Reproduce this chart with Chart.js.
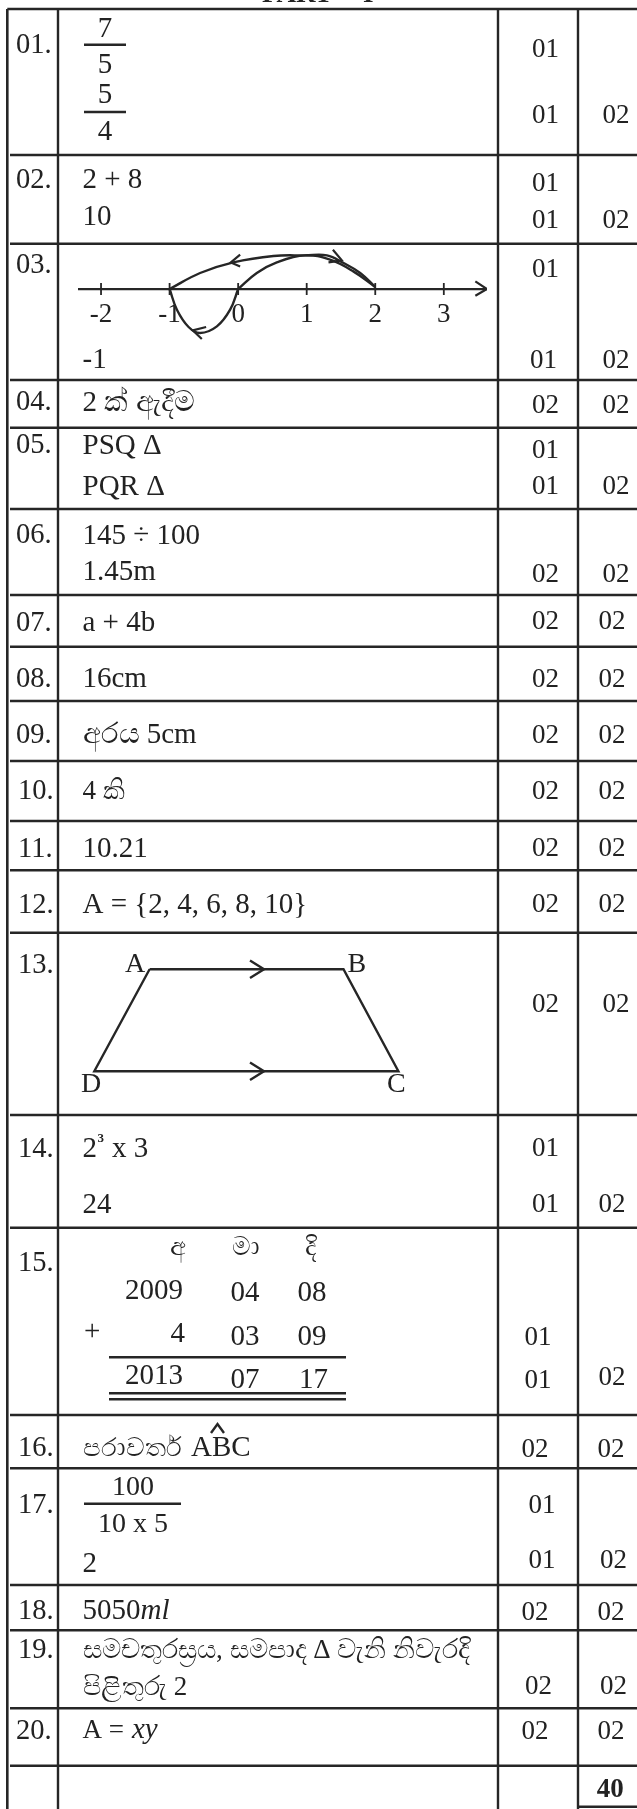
<!DOCTYPE html>
<html>
<head>
<meta charset="utf-8">
<script src="https://cdn.jsdelivr.net/npm/chart.js@4"></script>
<style>
  html, body { margin: 0; padding: 0; background: #fff; }
  #wrap { position: relative; width: 637px; height: 1809px; overflow: hidden; }
  canvas { position: absolute; }
  #tabela { left: 0; top: 0; }
  #reta { left: 78px; top: 249px; }
</style>
</head>
<body>
<div id="wrap">
  <canvas id="tabela" width="637" height="1809"></canvas>
  <canvas id="reta" width="409" height="96"></canvas>
</div>
<script>
// dados
const titleParts = ["PART", "-", "I"];
const questionNos = ["01.", "02.", "03.", "04.", "05.", "06.", "07.", "08.", "09.", "10.",
  "11.", "12.", "13.", "14.", "15.", "16.", "17.", "18.", "19.", "20."];
const answers = ["7", "5", "5", "4", "2 + 8", "10", "-1", "2 ක් ඇදීම", "PSQ Δ", "PQR Δ",
  "145 ÷ 100", "1.45m", "a + 4b", "16cm", "අරය 5cm", "4 කි", "10.21", "A = {2, 4, 6, 8, 10}",
  "A", "B", "D", "C", "2", "3", "x 3", "24",
  "අ", "මා", "දි", "2009", "04", "08", "+", "4", "03", "09", "2013", "07", "17",
  "පරාවර්ත", "ABC", "100", "10 x 5", "2", "5050", "ml",
  "සමචතුරස්‍රය, සමපාද Δ වැනි නිවැරදි", "පිළිතුරු 2", "A = ", "xy"];
const subMarks = ["01", "01", "01", "01", "01", "01", "02", "01", "01", "02", "02", "02", "02",
  "02", "02", "02", "02", "01", "01", "01", "01", "02", "01", "01", "02", "02", "02"];
const totalMarks = ["02", "02", "02", "02", "02", "02", "02", "02", "02", "02", "02", "02",
  "02", "02", "02", "02", "02", "02", "02", "02", "40"];
const numberLineTicks = [-2, -1, 0, 1, 2, 3];

// curvas da reta numerica (valor na reta, altura)
const arcOver = [[-1, 0], [-0.555, 16], [-0.07, 26.6], [0.515, 33], [0.977, 33.6], [1.295, 33.6], [1.537, 26], [1.78, 16], [2, 2]];
const arcUp = [[0, 0], [0.272, 16], [0.564, 26.6], [0.977, 33.6], [1.34, 29.3], [1.68, 17.6], [2, 2]];
const arcUnder = [[-1, 0], [-0.893, -20.7], [-0.723, -38], [-0.555, -44], [-0.31, -37.4], [-0.117, -20.7], [0, 0]];
const arrowHeads = [
  [[0.029, 34.3], [-0.107, 26.6], [0.029, 22.6]],
  [[1.382, 39.3], [1.513, 28.6], [1.318, 26.6]],
  [[-0.467, -38], [-0.662, -41.4], [-0.53, -50]],
  [[3.46, 7.7], [3.63, 0], [3.46, -6.7]]
];

// posicoes na pagina, separadas dos dados
const titleSpots = [[262, 1.5], [345, 1.5], [363, 1.5]];
const rowEdges = [9, 155, 243.7, 380, 427.7, 509, 595, 646.7, 701, 761, 821, 870.3, 932.7, 1115, 1227.7, 1415, 1468.3, 1585, 1630.3, 1708.3, 1765.7];
const colEdges = [58, 498, 578];
const questionSpots = [[16, 52.7], [16, 188], [16, 273], [16, 410], [16, 453], [16, 543], [16, 631], [16, 687], [16, 743],
  [18, 799], [18, 857], [18, 913], [18, 973], [18, 1157], [18, 1271], [18, 1456], [18, 1513], [18, 1619], [18, 1658], [16, 1739]];
// [x, y, alinhamento, tamanho da fonte]
const answerSpots = [[105, 37, "c"], [105, 72.7, "c"], [105, 103, "c"], [105, 140, "c"],
  [82.5, 188], [82.5, 225], [82.5, 368], [82.5, 411], [82.5, 454], [82.5, 495],
  [82.5, 544], [82.5, 580], [82.5, 631], [82.5, 687], [82.5, 743], [82.5, 799, null, 27], [82.5, 857], [82.5, 913],
  [125, 972, null, 28], [347.6, 972, null, 28], [81, 1092, null, 28], [387, 1092, null, 28],
  [82.5, 1157], [97.5, 1142, "sup"], [112, 1157], [82.5, 1213],
  [178, 1255, "c", 26], [246, 1255, "c", 26], [311, 1255, "c", 26],
  [125, 1299], [230.5, 1300.7], [297.6, 1300.7], [84, 1340], [185, 1341.7, "r"], [230.5, 1345], [297.6, 1345],
  [125, 1384], [230.5, 1388], [299, 1388],
  [83, 1456, null, 26], [191, 1456], [133, 1495, "c", 28], [133, 1532, "c", 28], [82.5, 1572], [82.5, 1619], [140.5, 1619, "i"],
  [83, 1658, null, 27], [83, 1695, null, 27], [82.5, 1738, null, 27], [132, 1738, "i"]];
const subMarkSpots = [[532, 56.7], [532, 123], [532, 190.7], [532, 228], [532, 276.7], [530, 368.3], [532, 413], [532, 458], [532, 494],
  [532, 582], [532, 629], [532, 686.7], [532, 742.7], [532, 799], [532, 856], [532, 911.7], [532, 1011.7],
  [532, 1155.7], [532, 1212.3], [524.4, 1345], [524.4, 1387.7], [521.5, 1457], [528.5, 1512.7], [528.5, 1568],
  [521.5, 1620], [525, 1694], [521.5, 1739]];
const totalMarkSpots = [[602.4, 123], [602.4, 228], [602.4, 368], [602.4, 413], [602.4, 494], [602.4, 582], [598.4, 629], [598.4, 686.7],
  [598.4, 742.7], [598.4, 799], [598.4, 856], [598.4, 911.7], [602.4, 1011.7], [598.4, 1212], [598.4, 1385], [597.6, 1457],
  [600, 1568], [597.6, 1620], [600, 1694], [597.6, 1739], [596.7, 1796.7]];
const extraStrokes = [
  [[84, 44.7], [126, 44.7]], [[84, 112], [126, 112]], [[84, 1503.7], [181, 1503.7]],
  [[149.6, 969.3], [343.5, 969.3], [398.4, 1071.3], [94.3, 1071.3], [149.6, 969.3]],
  [[250, 960.5], [264, 969.3], [250, 978]], [[250, 1062.5], [264, 1071.3], [250, 1080]],
  [[109, 1357.3], [346, 1357.3]], [[109, 1393.3], [346, 1393.3]], [[109, 1399.3], [346, 1399.3]],
  [[211, 1433], [217.5, 1424], [224, 1433]]
];

const inkColor = "#222";
const lineColor = "#262626";
const serif = '"Liberation Serif", "Times New Roman", serif';

function linha(pontos, largura) {
  return {
    data: pontos.map((p) => ({ x: p[0], y: p[1] })),
    showLine: true,
    borderColor: lineColor,
    borderWidth: largura || 2.4,
    pointRadius: 0,
    clip: false,
  };
}

var linhasTabela = [];
linhasTabela.push(linha([[7.3, 9], [7.3, 1809]], 2.6));
colEdges.forEach((x) => linhasTabela.push(linha([[x, 9], [x, 1809]])));
rowEdges.forEach((y) => linhasTabela.push(linha([[y === 9 ? 7.3 : 10, y], [637, y]])));
linhasTabela.push(linha([[578, 1806.7], [637, 1806.7]]));
extraStrokes.forEach((s) => linhasTabela.push(linha(s)));

function escreve(ctx, chart, texto, spot, fonte) {
  const x = chart.scales.x.getPixelForValue(spot[0]);
  const y = chart.scales.y.getPixelForValue(spot[1]);
  ctx.textAlign = spot[2] === "c" ? "center" : spot[2] === "r" ? "right" : "left";
  ctx.font = fonte;
  ctx.fillText(texto, x, y);
}

const textoTabela = {
  id: "textoTabela",
  afterDatasetsDraw(chart) {
    const ctx = chart.ctx;
    ctx.save();
    ctx.fillStyle = inkColor;
    ctx.textBaseline = "alphabetic";
    titleParts.forEach((t, i) => escreve(ctx, chart, t, titleSpots[i], "bold 27px " + serif));
    questionNos.forEach((t, i) => escreve(ctx, chart, t, questionSpots[i], "28.5px " + serif));
    answers.forEach((t, i) => {
      const spot = answerSpots[i];
      var fonte = (spot[3] || 29) + "px " + serif;
      if (spot[2] === "i") fonte = "italic " + fonte;
      if (spot[2] === "sup") fonte = "bold 13px " + serif;
      escreve(ctx, chart, t, spot, fonte);
    });
    subMarks.forEach((t, i) => escreve(ctx, chart, t, subMarkSpots[i], "27px " + serif));
    totalMarks.forEach((t, i) => {
      const fonte = t === "40" ? "bold 27px " + serif : "27px " + serif;
      escreve(ctx, chart, t, totalMarkSpots[i], fonte);
    });
    ctx.restore();
  },
};

new Chart(document.getElementById("tabela"), {
  type: "scatter",
  data: { datasets: linhasTabela },
  plugins: [textoTabela],
  options: {
    responsive: false,
    animation: false,
    events: [],
    layout: { padding: 0, autoPadding: false },
    plugins: { legend: { display: false }, tooltip: { enabled: false } },
    scales: {
      x: { type: "linear", min: 0, max: 637, display: false },
      y: { type: "linear", min: 0, max: 1809, reverse: true, display: false },
    },
  },
});

var linhasReta = [];
[arcOver, arcUp, arcUnder].forEach((arco) => {
  linhasReta.push({ ...linha(arco, 2.4), tension: 0.4 });
});
arrowHeads.forEach((seta) => linhasReta.push(linha(seta, 2.2)));
// tracinhos da reta
linhasReta.push({
  data: numberLineTicks.map((v) => ({ x: v, y: 0 })),
  pointStyle: "line",
  rotation: 90,
  pointRadius: 6,
  pointBorderWidth: 1.8,
  borderColor: lineColor,
  clip: false,
});

new Chart(document.getElementById("reta"), {
  type: "scatter",
  data: { datasets: linhasReta },
  options: {
    responsive: false,
    animation: false,
    events: [],
    layout: { padding: 0, autoPadding: false },
    plugins: { legend: { display: false }, tooltip: { enabled: false } },
    scales: {
      x: {
        type: "linear",
        min: -2.336,
        max: 3.63,
        position: { y: 0 },
        border: { color: lineColor, width: 2.2 },
        grid: { display: false, drawTicks: false },
        // sem folga lateral, a reta ocupa o canvas todo
        afterFit(scale) {
          scale.paddingLeft = 0;
          scale.paddingRight = 0;
        },
        ticks: {
          stepSize: 1,
          includeBounds: false,
          padding: 10,
          maxRotation: 0,
          color: inkColor,
          font: { family: serif, size: 27 },
        },
      },
      y: { type: "linear", min: -56, max: 40, display: false },
    },
  },
});
</script>
</body>
</html>
